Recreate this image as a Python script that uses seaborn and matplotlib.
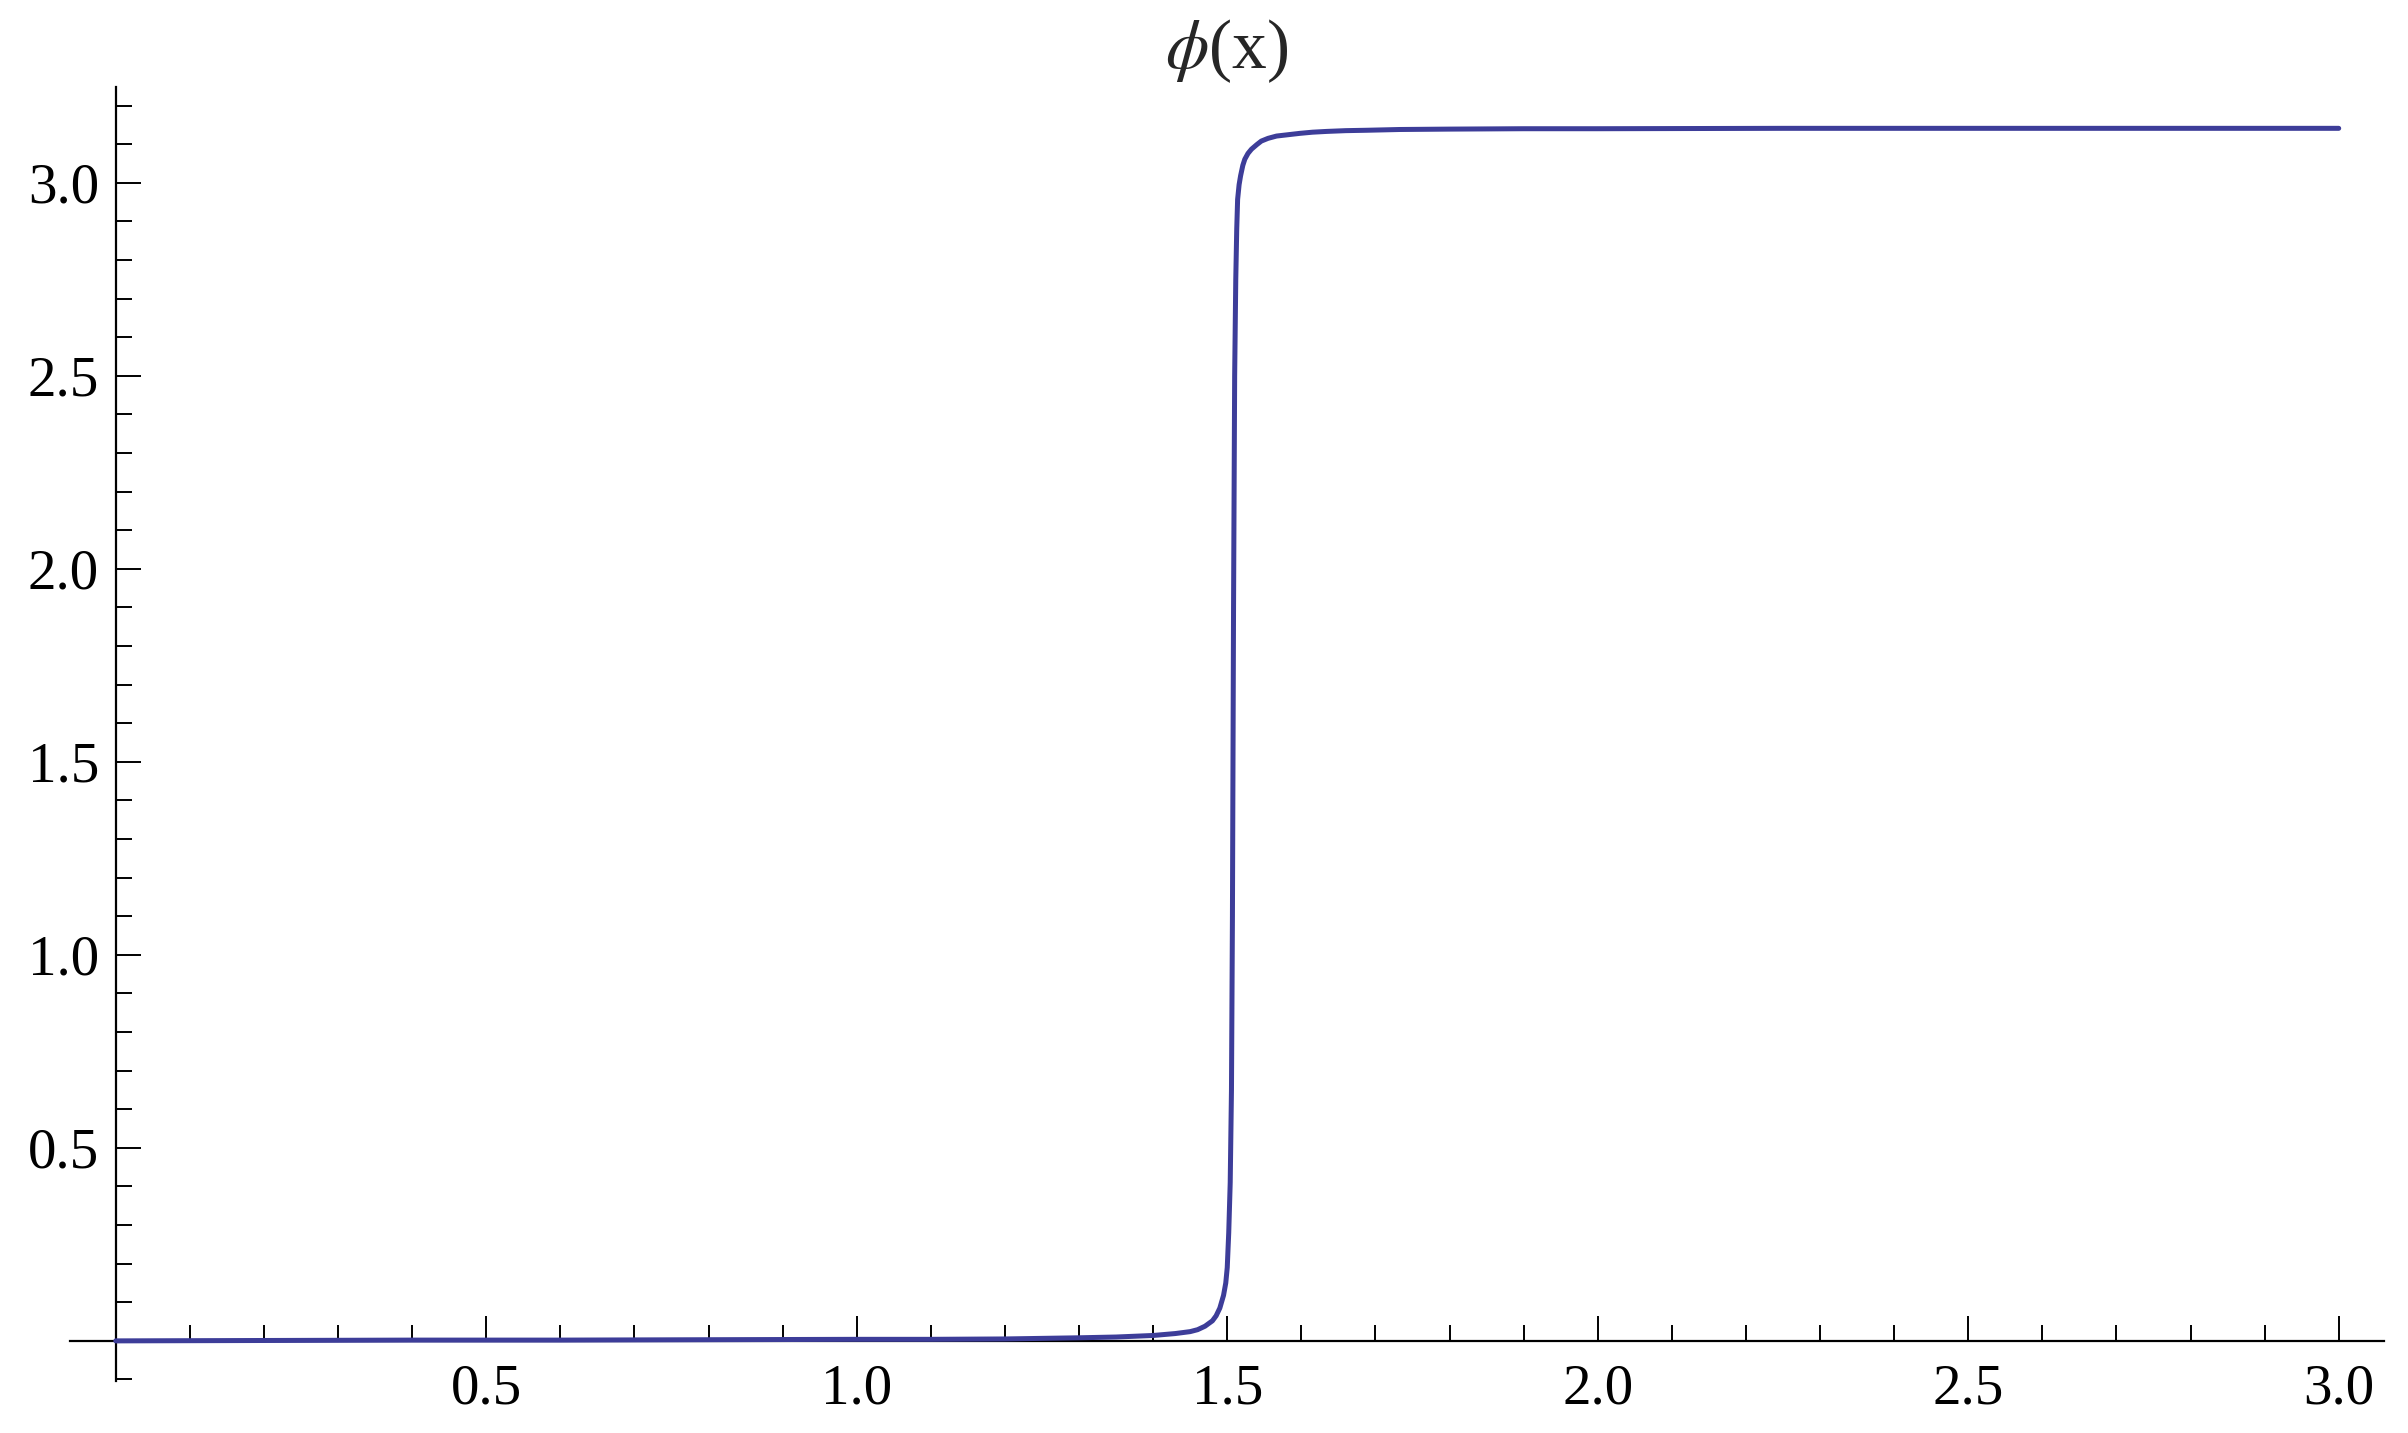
import numpy as np
import pandas as pd
import matplotlib
matplotlib.use("Agg")
import matplotlib.pyplot as plt
from matplotlib.ticker import FixedLocator
import seaborn as sns

# values
x_vals = [0.0, 0.2, 0.4, 0.6, 0.8, 1.0, 1.1, 1.2, 1.3, 1.35, 1.4, 1.43, 1.45, 1.46,
          1.47, 1.48, 1.485, 1.49, 1.495, 1.498, 1.500, 1.502, 1.504, 1.5057, 1.507,
          1.5085, 1.510, 1.5115, 1.5128, 1.514, 1.516, 1.518, 1.521, 1.5237, 1.528,
          1.5327, 1.540, 1.546, 1.555, 1.5665, 1.580, 1.598, 1.615, 1.634, 1.660,
          1.688, 1.733, 1.80, 1.90, 2.00, 2.25, 2.50, 2.75, 3.00]
phi_vals = [0.000, 0.001, 0.002, 0.002, 0.003, 0.004, 0.004, 0.005, 0.008, 0.010,
            0.014, 0.019, 0.024, 0.029, 0.038, 0.052, 0.065, 0.085, 0.118, 0.150,
            0.190, 0.280, 0.410, 0.650, 1.100, 1.900, 2.500, 2.750, 2.880, 2.957,
            2.995, 3.018, 3.045, 3.061, 3.076, 3.087, 3.099, 3.108, 3.115, 3.121,
            3.124, 3.128, 3.131, 3.133, 3.135, 3.136, 3.138, 3.139, 3.140, 3.140,
            3.141, 3.141, 3.141, 3.141]
title_text = r"$\phi$(x)"
x_major = [0.5, 1.0, 1.5, 2.0, 2.5, 3.0]
x_major_labels = ["0.5", "1.0", "1.5", "2.0", "2.5", "3.0"]
y_major = [0.5, 1.0, 1.5, 2.0, 2.5, 3.0]
y_major_labels = ["0.5", "1.0", "1.5", "2.0", "2.5", "3.0"]

sns.set_theme(style="white")
plt.rcParams["font.family"] = ["Liberation Serif", "DejaVu Serif"]
plt.rcParams["mathtext.fontset"] = "stix"

df = pd.DataFrame({"x": x_vals, "phi": phi_vals})

fig = plt.figure(figsize=(12.04, 7.165), dpi=200)
ax = fig.add_axes([0.029, 0.036, 0.961, 0.903])

sns.lineplot(data=df, x="x", y="phi", ax=ax, color="#3d3d99", linewidth=1.8,
             estimator=None, sort=False)

ax.set_xlim(-0.062, 3.061)
ax.set_ylim(-0.105, 3.247)

for s in ["top", "right"]:
    ax.spines[s].set_visible(False)
ax.spines["left"].set_position(("data", 0))
ax.spines["bottom"].set_position(("data", 0))
for s in ["left", "bottom"]:
    ax.spines[s].set_color("black")
    ax.spines[s].set_linewidth(0.8)
    ax.spines[s].set_zorder(1)

ax.set_xticks(x_major)
ax.set_xticklabels(x_major_labels)
ax.set_yticks(y_major)
ax.set_yticklabels(y_major_labels)
ax.xaxis.set_minor_locator(FixedLocator([v / 10 for v in range(1, 31) if v % 5 != 0]))
ax.yaxis.set_minor_locator(FixedLocator([v / 10 for v in range(-1, 33) if v % 5 != 0]))

ax.tick_params(axis="both", which="major", direction="in", length=9, width=0.7,
               color="black", labelsize=20.5, labelcolor="black")
ax.tick_params(axis="both", which="minor", direction="in", length=5.8, width=0.7,
               color="black")
ax.tick_params(axis="x", which="major", pad=8, bottom=True)
ax.tick_params(axis="x", which="minor", bottom=True)
ax.tick_params(axis="y", which="major", pad=6, left=True)
ax.tick_params(axis="y", which="minor", left=True)

ax.set_xlabel("")
ax.set_ylabel("")
ax.set_title(title_text, fontsize=25, pad=7)

fig.savefig("out.png", dpi=200)
